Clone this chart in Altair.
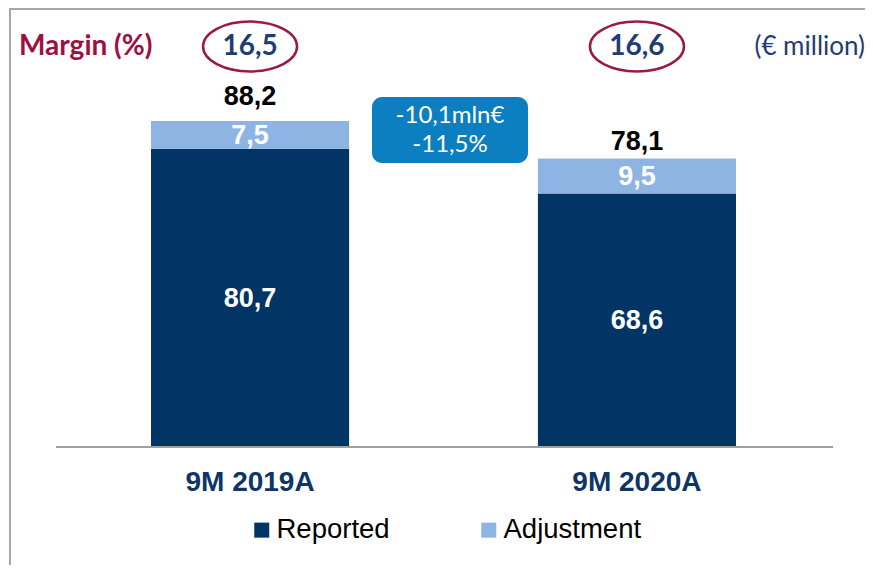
import altair as alt
import pandas as pd

# ---- data ----
categories = ["9M 2019A", "9M 2020A"]
series_names = ["Reported", "Adjustment"]
reported = [80.7, 68.6]
adjustment = [7.5, 9.5]
totals = [88.2, 78.1]
margins = ["16,5", "16,6"]
margin_title = "Margin (%)"
unit_label = "(€ million)"
callout_lines = ["-10,1mln€", "-11,5%"]

# ---- style ----
NAVY = "#023466"
LIGHT = "#8eb4e3"
CALLOUT = "#0c7fc1"
RED = "#9e1040"
RED_RING = "#9b1a45"
DARKBLUE_TXT = "#1f3c75"
GRAY = "#a0a0a0"
FRAME = "#a6a6a6"
ARIAL = "Liberation Sans"
CALIBRI = "Lato"

bars_df = pd.DataFrame({
    "category": categories * 2,
    "series": [series_names[0]] * 2 + [series_names[1]] * 2,
    "value": reported + adjustment,
})
tot_df = pd.DataFrame({"category": categories, "total": totals, "margin": margins})

y_scale = alt.Scale(domain=[0, 118.8])
x_scale = alt.Scale(domain=categories, range=[143, 728], paddingInner=0.488, paddingOuter=0)
x_axis = alt.Axis(title=None, domain=False, ticks=False, grid=False, labelAngle=0,
                  labelFontSize=28, labelFont=ARIAL, labelFontWeight="bold",
                  labelColor="#0e3566", labelPadding=21)
x_enc = alt.X("category:N", scale=x_scale, axis=x_axis)

order_expr = "indexof(" + str(series_names) + ", datum.series)"

bars = alt.Chart(bars_df).transform_calculate(stack_order=order_expr).mark_bar().encode(
    x=x_enc,
    y=alt.Y("value:Q", stack="zero", scale=y_scale, axis=None),
    color=alt.Color(
        "series:N",
        scale=alt.Scale(domain=series_names, range=[NAVY, LIGHT]),
        legend=alt.Legend(title=None, orient="none", legendX=240, legendY=508,
                          direction="horizontal", symbolType="square", symbolSize=225,
                          symbolStrokeWidth=0, labelFont=ARIAL, labelFontSize=27.5,
                          labelColor="#000000", labelOffset=1, columnPadding=85, padding=0),
    ),
    order=alt.Order("stack_order:Q", sort="ascending"),
)

seg_labels = (
    alt.Chart(bars_df)
    .transform_calculate(stack_order=order_expr)
    .transform_stack(stack="value", as_=["v0", "v1"], groupby=["category"],
                     sort=[alt.SortField("stack_order", order="ascending")])
    .transform_calculate(mid="(datum.v0 + datum.v1) / 2",
                         label="replace(format(datum.value, '.1f'), '.', ',')")
    .mark_text(font=ARIAL, fontSize=27, fontWeight="bold", color="white", baseline="middle", dy=1)
    .encode(x=x_enc, y=alt.Y("mid:Q", scale=y_scale, axis=None), text="label:N")
)

def total_layer(cat, dy):
    return (
        alt.Chart(tot_df)
        .transform_filter(alt.datum.category == cat)
        .transform_calculate(label="replace(format(datum.total, '.1f'), '.', ',')")
        .mark_text(font=ARIAL, fontSize=27, fontWeight="bold", color="#000000", baseline="middle", dy=dy)
        .encode(x=x_enc, y=alt.Y("total:Q", scale=y_scale, axis=None), text="label:N")
    )

tot1 = total_layer(categories[0], -24)
tot2 = total_layer(categories[1], -16)

r = 0.53
k = 0.5523
ellipse = (f"M -1 0 C -1 {-k*r:.4f} {-k:.4f} {-r} 0 {-r} C {k:.4f} {-r} 1 {-k*r:.4f} 1 0 "
           f"C 1 {k*r:.4f} {k:.4f} {r} 0 {r} C {-k:.4f} {r} -1 {k*r:.4f} -1 0 Z")

rings = alt.Chart(tot_df).mark_point(shape=ellipse, size=94 * 94, filled=False, stroke=RED_RING,
                                     strokeWidth=2.5, opacity=1).encode(
    x=x_enc, y=alt.value(38.5)
)
margin_txt = alt.Chart(tot_df).mark_text(font=CALIBRI, fontSize=28, fontWeight="bold",
                                         color=DARKBLUE_TXT, baseline="middle").encode(
    x=x_enc, y=alt.value(39), text="margin:N"
)

title_df = pd.DataFrame({"t": [margin_title]})
title_txt = alt.Chart(title_df).mark_text(font=CALIBRI, fontSize=28, fontWeight="bold", color=RED,
                                          align="left", baseline="middle").encode(
    x=alt.value(11), y=alt.value(39), text="t:N"
)
unit_df = pd.DataFrame({"t": [unit_label]})
unit_txt = alt.Chart(unit_df).mark_text(font=CALIBRI, fontSize=26, color=DARKBLUE_TXT,
                                        align="right", baseline="middle").encode(
    x=alt.value(857), y=alt.value(39), text="t:N"
)

callout_box = alt.Chart(title_df).mark_rect(cornerRadius=10, color=CALLOUT).encode(
    x=alt.value(364), x2=alt.value(520), y=alt.value(89), y2=alt.value(155)
)
c1 = alt.Chart(pd.DataFrame({"t": [callout_lines[0]]})).mark_text(
    font=CALIBRI, fontSize=24, color="white", baseline="middle").encode(
    x=alt.value(442), y=alt.value(108), text="t:N")
c2 = alt.Chart(pd.DataFrame({"t": [callout_lines[1]]})).mark_text(
    font=CALIBRI, fontSize=24, color="white", baseline="middle").encode(
    x=alt.value(442), y=alt.value(137), text="t:N")

baseline = alt.Chart(title_df).mark_rule(color=GRAY, strokeWidth=2).encode(
    x=alt.value(48), x2=alt.value(825), y=alt.value(439)
)
frame_top = alt.Chart(title_df).mark_rule(color=FRAME, strokeWidth=2).encode(
    x=alt.value(2), x2=alt.value(857), y=alt.value(1)
)
frame_left = alt.Chart(title_df).mark_rule(color=FRAME, strokeWidth=2).encode(
    x=alt.value(2), y=alt.value(0), y2=alt.value(557)
)

chart = alt.layer(
    bars, baseline, seg_labels, tot1, tot2, rings, margin_txt, title_txt, unit_txt,
    callout_box, c1, c2, frame_top, frame_left,
).properties(
    width=857, height=439, autosize="none", background="white",
    padding={"left": 0, "top": 0, "right": 0, "bottom": 118},
).configure_view(stroke=None)

chart.save("out.html", embed_options={"renderer": "svg", "actions": False})
